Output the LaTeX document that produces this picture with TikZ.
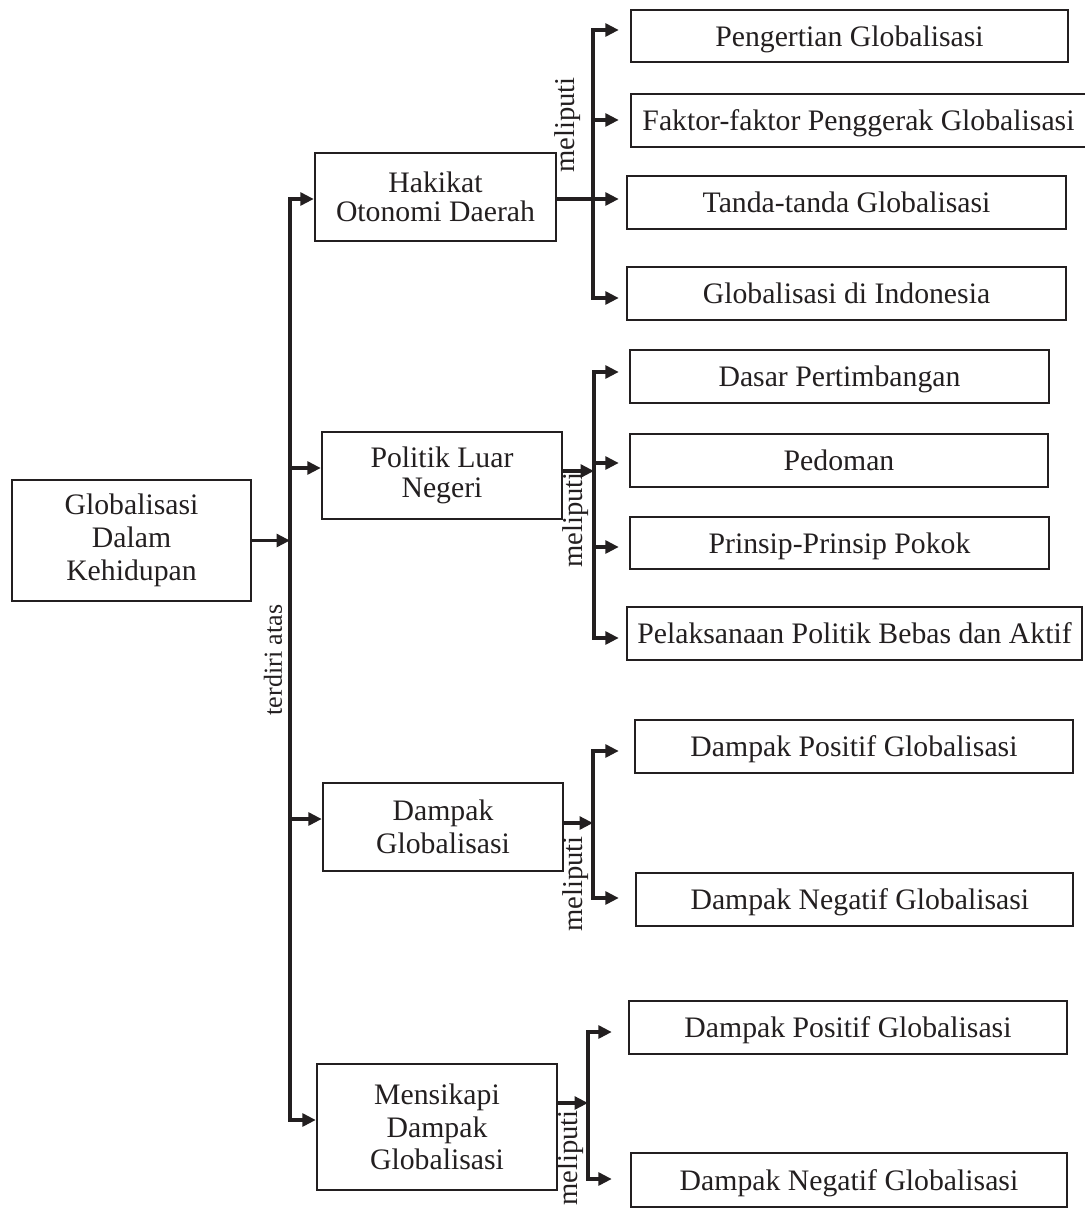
\documentclass[tikz,border=0pt]{standalone}
\usepackage{fontspec}
\setmainfont{Liberation Serif}
\usetikzlibrary{arrows.meta}
\definecolor{ink}{RGB}{35,31,32}
% box given by its corners (x1,y1) (x2,y2) in pixel units
\newcommand\boxnode[7][]{%
  \node[box,#1,minimum width={(#5-#3)*0.75pt},minimum height={(#6-#4)*0.75pt}]
    (#2) at ({(#3+#5)/2},{(#4+#6)/2}) {#7};}
\begin{document}
\begin{tikzpicture}[x=0.75pt,y=-0.75pt,
  box/.style={draw=ink,line width=1.8pt,inner sep=0pt,align=center,text=ink,
              font=\fontsize{22.3}{24.5}\selectfont},
  tight/.style={font=\fontsize{22.3}{22}\selectfont},
  one/.style={box,text depth=0pt},
  conn/.style={draw=ink,line width=2.6pt,line cap=rect},
  arr/.style={conn,-{Triangle[length=10pt,width=9.5pt]}},
  gap/.style={shorten >={#1*0.75pt}},
  lbl/.style={text=ink,inner sep=0pt,rotate=90,font=\fontsize{21.5}{24}\selectfont},
]
\useasboundingbox (0,0) rectangle (1085,1210);

% main boxes
\boxnode{root}{12}{480}{251}{601}{Globalisasi\\Dalam\\Kehidupan}
\boxnode[tight]{hak}{315}{153}{556}{241}{Hakikat\\Otonomi Daerah}
\boxnode[tight]{pol}{322}{432}{562}{519}{Politik Luar\\Negeri}
\boxnode{dam}{323}{783}{563}{871}{Dampak\\Globalisasi}
\boxnode{mens}{317}{1064}{557}{1190}{Mensikapi\\Dampak\\Globalisasi}

% sub-topic boxes
\boxnode[one]{peng}{631}{10}{1068}{62}{Pengertian Globalisasi}
\boxnode[one]{faktor}{631}{94}{1086}{147}{Faktor-faktor Penggerak Globalisasi}
\boxnode[one]{tanda}{627}{176}{1066}{229}{Tanda-tanda Globalisasi}
\boxnode[one]{indo}{627}{267}{1066}{320}{Globalisasi di Indonesia}
\boxnode[one]{dasar}{630}{350}{1049}{403}{Dasar Pertimbangan}
\boxnode[one]{pedoman}{630}{434}{1048}{487}{Pedoman}
\boxnode[one]{prinsip}{630}{517}{1049}{569}{Prinsip-Prinsip Pokok}
\boxnode[one]{pelak}{627}{607}{1082}{660}{Pelaksanaan Politik Bebas dan Aktif}
\boxnode[one]{dpos1}{635}{720}{1073}{773}{Dampak Positif Globalisasi}
\boxnode[one]{dneg1}{636}{873}{1073}{926}{\hspace*{8pt}Dampak Negatif Globalisasi}
\boxnode[one]{dpos2}{629}{1001}{1067}{1054}{Dampak Positif Globalisasi}
\boxnode[one]{dneg2}{631}{1153}{1067}{1207}{Dampak Negatif Globalisasi}

% trunk
\coordinate (tTop) at (290,199);
\coordinate (tP) at (290,468);
\coordinate (tD) at (290,819);
\coordinate (tM) at (290,1120);
\draw[conn] (tTop) -- (tM);
\draw[arr] (root.east) -- (root.east -| tTop);
\draw[arr] (tTop) -- (tTop -| hak.west);
\draw[arr] (tP) -- (tP -| pol.west);
\draw[arr] (tD) -- (tD -| dam.west);
\draw[arr] (tM) -- (tM -| mens.west);
\node[lbl,font=\fontsize{19.5}{22}\selectfont] (lTerdiri) at (273,660) {terdiri atas};

% Hakikat branch
\coordinate (hb1) at (593,30);
\coordinate (hb2) at (593,120);
\coordinate (hb3) at (593,199);
\coordinate (hb4) at (593,298);
\draw[conn] (hb1) -- (hb4);
\draw[arr,gap=11] (hb1) -- (hb1 -| peng.west);
\draw[arr,gap=11] (hb2) -- (hb2 -| faktor.west);
\draw[arr,gap=7] (hak.east |- hb3) -- (hb3 -| tanda.west);
\draw[arr,gap=7] (hb4) -- (hb4 -| indo.west);
\node[lbl] (lHak) at (568,125) {meliputi};

% Politik branch
\coordinate (pj) at (594,471);
\coordinate (pb1) at (594,372);
\coordinate (pb2) at (594,463);
\coordinate (pb3) at (594,547);
\coordinate (pb4) at (594,638);
\draw[conn] (pb1) -- (pb4);
\draw[arr] (pol.east |- pj) -- (pj);
\draw[arr,gap=10] (pb1) -- (pb1 -| dasar.west);
\draw[arr,gap=10] (pb2) -- (pb2 -| pedoman.west);
\draw[arr,gap=10] (pb3) -- (pb3 -| prinsip.west);
\draw[arr,gap=7] (pb4) -- (pb4 -| pelak.west);
\node[lbl] (lPol) at (576,520) {meliputi};

% Dampak branch
\coordinate (dj) at (593,823);
\coordinate (db1) at (593,751);
\coordinate (db2) at (593,898);
\draw[conn] (db1) -- (db2);
\draw[arr] (dam.east |- dj) -- (dj);
\draw[arr,gap=15] (db1) -- (db1 -| dpos1.west);
\draw[arr,gap=16] (db2) -- (db2 -| dneg1.west);
\node[lbl] (lDam) at (576,884) {meliputi};

% Mensikapi branch
\coordinate (mj) at (588,1103);
\coordinate (mb1) at (588,1032);
\coordinate (mb2) at (588,1179);
\draw[conn] (mb1) -- (mb2);
\draw[arr] (mens.east |- mj) -- (mj);
\draw[arr,gap=16] (mb1) -- (mb1 -| dpos2.west);
\draw[arr,gap=18] (mb2) -- (mb2 -| dneg2.west);
\node[lbl] (lMens) at (571,1158) {meliputi};
\end{tikzpicture}
\end{document}
